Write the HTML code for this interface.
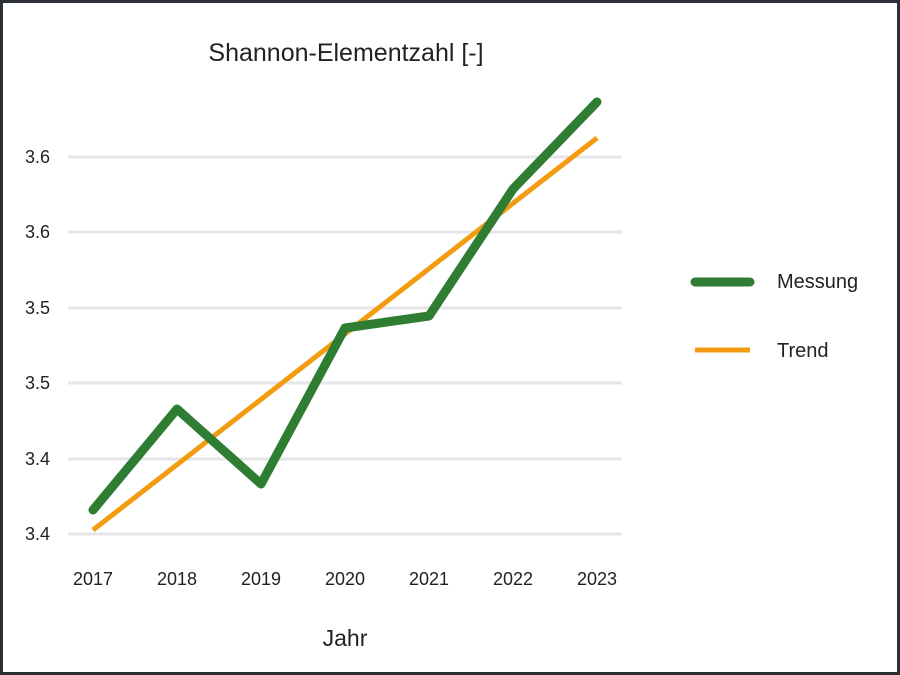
<!DOCTYPE html>
<html><head><meta charset="utf-8"><style>
html,body{margin:0;padding:0;background:#fff}
.f{position:absolute;left:0;top:0;width:900px;height:675px;box-sizing:border-box;border:3px solid #2b2f36;background:#fff}
svg{position:absolute;left:0;top:0}
text{font-family:"Liberation Sans","DejaVu Sans",sans-serif;fill:#222}
</style></head><body>
<div class="f"></div>
<svg width="900" height="675" viewBox="0 0 900 675">
<g stroke="#e6e6ea" stroke-width="3">
<line x1="68" y1="157" x2="622" y2="157"/>
<line x1="68" y1="232" x2="622" y2="232"/>
<line x1="68" y1="308" x2="622" y2="308"/>
<line x1="68" y1="383" x2="622" y2="383"/>
<line x1="68" y1="459" x2="622" y2="459"/>
<line x1="68" y1="534" x2="622" y2="534"/>
</g>
<g font-size="18" text-anchor="end">
<text x="50" y="163">3.6</text><text x="50" y="238">3.6</text><text x="50" y="314">3.5</text>
<text x="50" y="389">3.5</text><text x="50" y="465">3.4</text><text x="50" y="540">3.4</text>
</g>
<g font-size="18" text-anchor="middle">
<text x="93" y="585">2017</text><text x="177" y="585">2018</text><text x="261" y="585">2019</text>
<text x="345" y="585">2020</text><text x="429" y="585">2021</text><text x="513" y="585">2022</text><text x="597" y="585">2023</text>
</g>
<text x="345" y="646" font-size="23" text-anchor="middle">Jahr</text>
<text x="346" y="61" font-size="25" text-anchor="middle">Shannon-Elementzahl [-]</text>
<line x1="93" y1="530" x2="597" y2="138" stroke="#f39c12" stroke-width="5"/>
<polyline points="93,510 177,409 261,484 345,328 429,316 513,189 597,102" fill="none" stroke="#2e7d32" stroke-width="9" stroke-linejoin="round" stroke-linecap="round"/>
<line x1="695" y1="282" x2="750" y2="282" stroke="#2e7d32" stroke-width="9" stroke-linecap="round"/>
<line x1="695" y1="350" x2="750" y2="350" stroke="#f39c12" stroke-width="5"/>
<text x="777" y="288" font-size="20">Messung</text>
<text x="777" y="357" font-size="20">Trend</text>
</svg>
</body></html>
